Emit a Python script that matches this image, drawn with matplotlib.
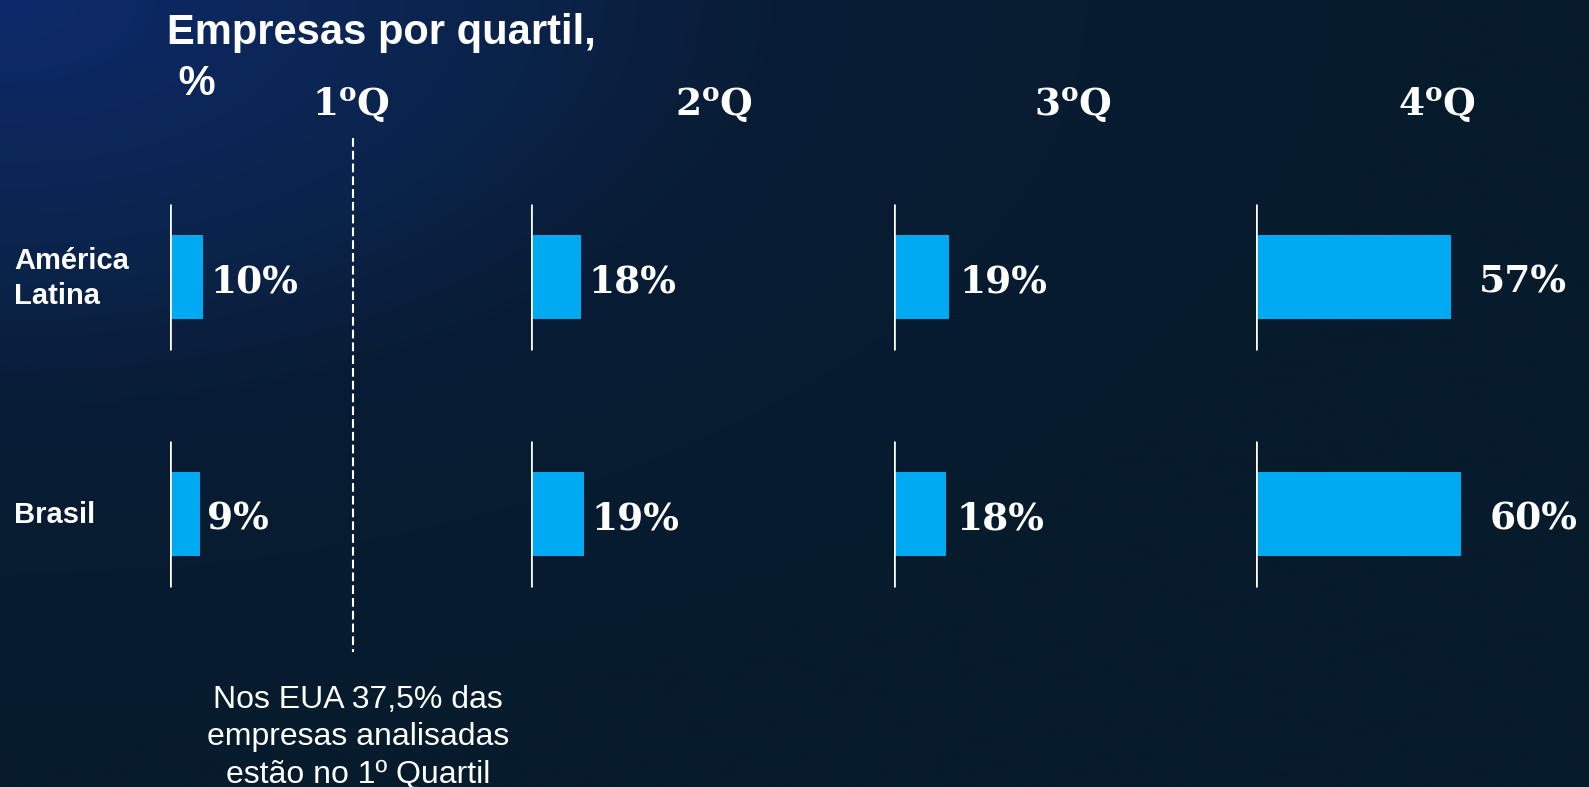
import numpy as np
import matplotlib
matplotlib.use("Agg")
import matplotlib.pyplot as plt

plt.rcParams["mathtext.fontset"] = "dejavuserif"
plt.rcParams["lines.scale_dashes"] = False

# data
REGIONS   = ["América\nLatina", "Brasil"]
QUARTILES = [r"$\mathbf{1^{o}Q}$", r"$\mathbf{2^{o}Q}$", r"$\mathbf{3^{o}Q}$", r"$\mathbf{4^{o}Q}$"]
SHARE = [           # % of companies per quartile, rows = REGIONS
    [10, 18, 19, 57],
    [9, 19, 18, 60],
]
TITLE    = "Empresas por quartil,\n %"
FOOTNOTE = "Nos EUA 37,5% das\nempresas analisadas\nestão no 1º Quartil"

# layout (pixels of the 1589x787 canvas)
W, H       = 1589, 787
BASE_X     = [170, 530.5, 894, 1255.5]     # white baseline of each quartile block
PX_PER_PCT = [3.3, 2.8, 2.87, 3.43]        # each block was scaled on its own
LABEL_GAP  = [7, 8, 11, 28]
HEADER_X   = [351, 714, 1073, 1437]
HEADER_BASE = 115
ROW_Y      = [277, 513.5]
AX_W       = 330
BAR_H_PX   = 84
LINE_H_PX  = 73

BAR_COLOR = "#00aaf2"
FONT_SANS = "Liberation Sans"
FONT_SERIF = "DejaVu Serif"

fig = plt.figure(figsize=(W / 100, H / 100), dpi=100)

# background: blue glow in the top-left fading to dark navy
bg = fig.add_axes([0, 0, 1, 1], zorder=0)
yy, xx = np.mgrid[0:H:3, 0:W:3]
d = np.sqrt((xx / 700.0) ** 2 + (yy / 370.0) ** 2)
stops = [0.0, 0.77, 1.0, 1.1, 2.0]
cols = np.array([[0x0e, 0x2a, 0x6b], [0x0a, 0x23, 0x48], [0x0a, 0x1e, 0x3c],
                 [0x08, 0x1d, 0x35], [0x06, 0x1b, 0x2c]]) / 255.0
img = np.dstack([np.interp(d, stops, cols[:, k]) for k in range(3)])
bg.imshow(img, extent=(0, W, H, 0), aspect="auto", interpolation="bilinear")
bg.set_xlim(0, W)
bg.set_ylim(H, 0)
bg.axis("off")

# dashed separator after the first quartile
bg.plot([353, 353], [138, 652], color="white", lw=1.5, dashes=[6.3, 2.9])

gap = ROW_Y[1] - ROW_Y[0]
top_px = ROW_Y[0] - 0.5 * gap
bot_px = ROW_Y[1] + 0.5 * gap
rows = np.arange(len(REGIONS))

for g in range(len(QUARTILES)):
    ax = fig.add_axes([BASE_X[g] / W, 1 - bot_px / H, AX_W / W, (bot_px - top_px) / H], zorder=2)
    ax.set_xlim(0, AX_W / PX_PER_PCT[g])
    ax.set_ylim(len(REGIONS) - 0.5, -0.5)
    ax.patch.set_alpha(0)
    ax.axis("off")

    vals = [SHARE[r][g] for r in rows]
    ax.barh(rows, vals, height=BAR_H_PX / gap, color=BAR_COLOR, zorder=2)
    ax.vlines([0] * len(rows), rows - LINE_H_PX / gap, rows + LINE_H_PX / gap,
              color="white", lw=1.9, zorder=3)
    for r, v in zip(rows, vals):
        ax.annotate(f"{v}%", xy=(v, r), xytext=(LABEL_GAP[g], -5), textcoords="offset pixels",
                    ha="left", va="center", fontsize=27, fontweight="bold",
                    family=FONT_SERIF, color="white", annotation_clip=False)

    fig.text(HEADER_X[g] / W, 1 - HEADER_BASE / H, QUARTILES[g], ha="center", va="baseline",
             fontsize=27, color="white")

# region labels
for r, name in enumerate(REGIONS):
    lines = name.split("\n")
    n = len(lines)
    for i, line in enumerate(lines):
        y = ROW_Y[r] + 9.5 + (i - (n - 1) / 2) * 35
        fig.text(14 / W, 1 - y / H, line, ha="left", va="baseline", fontsize=21,
                 fontweight="bold", family=FONT_SANS, color="white")

# title
for i, line in enumerate(TITLE.split("\n")):
    fig.text(167 / W, 1 - (44 + 51 * i) / H, line, ha="left", va="baseline", fontsize=30,
             fontweight="bold", family=FONT_SANS, color="white")

# footnote under the 1st quartile
for i, line in enumerate(FOOTNOTE.split("\n")):
    fig.text(358 / W, 1 - (708 + 37.5 * i) / H, line, ha="center", va="baseline", fontsize=23,
             family=FONT_SANS, color="white")

fig.savefig("out.png", dpi=100)
